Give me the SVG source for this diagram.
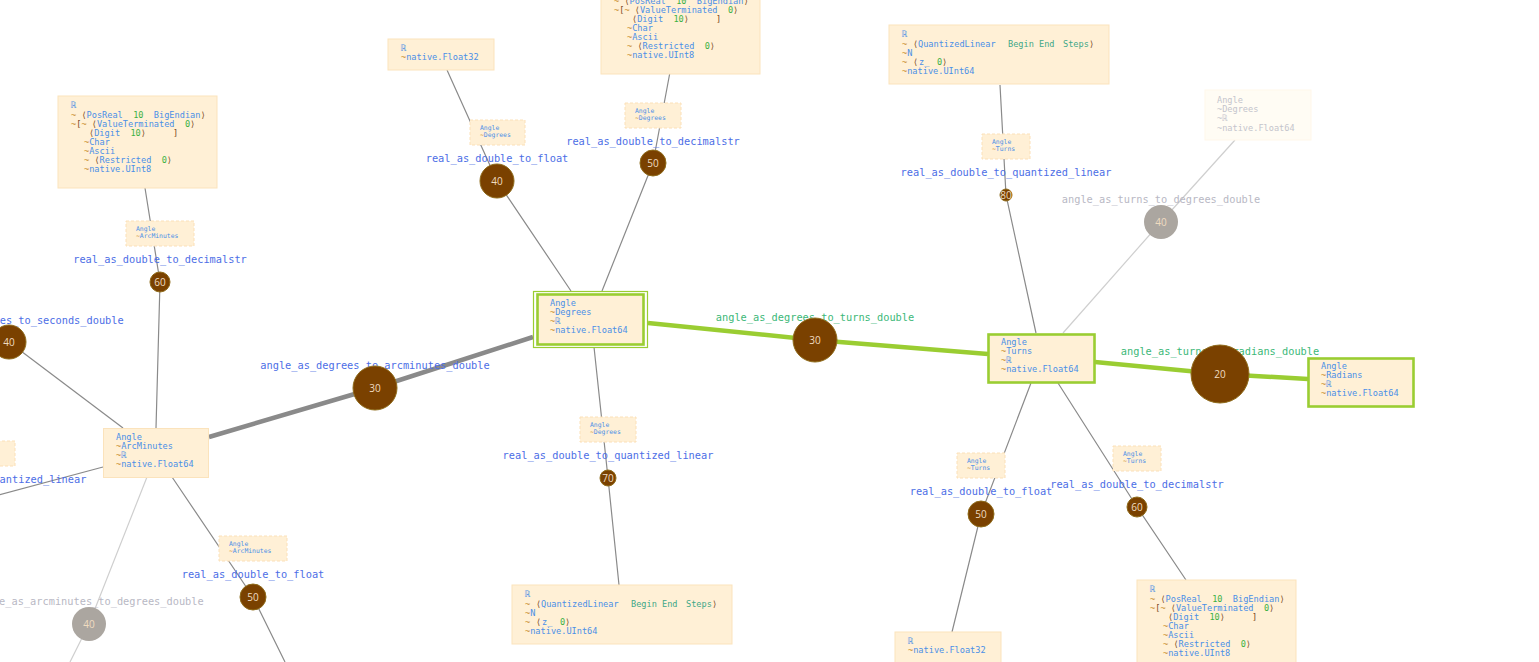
<svg xmlns="http://www.w3.org/2000/svg" width="1539" height="662" viewBox="0 0 1539 662">
<style>
.box{fill:#fff0d6;stroke:#fbe3bc;stroke-width:1}
.lab{fill:#fff0d6;stroke:#fbe0b8;stroke-width:1;stroke-dasharray:3 2}
.bt{font-family:"DejaVu Sans Mono",monospace;font-size:8.6px;fill:#4a8fe7;white-space:pre}
.st{font-family:"DejaVu Sans Mono",monospace;font-size:6.4px;fill:#4a8fe7}
.t{fill:#c98c2a}
.k{fill:#7b4a1e}
.n{fill:#3cb043}
.w{fill:#3fa888}
.el{font-family:"DejaVu Sans Mono",monospace;font-size:10.3px;fill:#4c6ee6;text-anchor:middle}
.eg{fill:#3cb878}
.ex{fill:#b8b8c4}
.e{fill:none;stroke:#8a8a8a;stroke-width:1.2}
.ef{stroke:#cfcfcf}
.et{fill:none;stroke:#8a8a8a;stroke-width:4.5}
.eh{fill:none;stroke:#9acd32;stroke-width:4.5}
.c{fill:#7a4100;stroke:#8f6b1a;stroke-width:1}
.cg{fill:#aba6a0}
.cn{font-family:"Open Sans",sans-serif;font-size:10px;fill:#f0dcc0;text-anchor:middle}
.sel{fill:none;stroke:#9acd32}
.fade{fill:#c4c4cc}
</style>
<rect width="1539" height="662" fill="#ffffff"/>

<g id="connectors">
<path class="e" d="M447,70 L497,181 L571,291"/>
<path class="e" d="M670,72 L653,163 L602,291"/>
<path class="e" d="M145,188 L160,282 L156,428"/>
<path class="e" d="M9,342 L123,428"/>
<path class="e" d="M103,467 L-20,500"/>
<path class="e ef" d="M147,477 L89,624 L70,662"/>
<path class="e" d="M172,477 L253,597 L285,662"/>
<path class="e" d="M594,347 L608,478 L619,585"/>
<path class="e" d="M1000,85 L1006,195 L1036,333"/>
<path class="e ef" d="M1235,140 L1161,222 L1063,333"/>
<path class="e" d="M1031,383 L981,514 L952,632"/>
<path class="e" d="M1058,383 L1137,507 L1186,580"/>
<path class="et" d="M533,337 L375,388 L209,437"/>
<path class="eh" d="M648,323 L815,340 L988,354"/>
<path class="eh" d="M1095,362 L1220,374 L1308,379"/>
</g>

<g id="str_topleft" transform="translate(58,96)">
<rect class="box" width="159" height="92"/>
<text class="bt" x="13" y="12">ℝ</text>
<text class="bt" x="13" y="22" xml:space="preserve"><tspan class="t">~</tspan> <tspan class="k">⟨</tspan>PosReal  <tspan class="n">10</tspan>  BigEndian<tspan class="k">⟩</tspan></text>
<text class="bt" x="13" y="31" xml:space="preserve"><tspan class="t">~</tspan><tspan class="k">[</tspan><tspan class="t">~</tspan> <tspan class="k">⟨</tspan>ValueTerminated  <tspan class="n">0</tspan><tspan class="k">⟩</tspan></text>
<text class="bt" x="31" y="40" xml:space="preserve"><tspan class="k">⟨</tspan>Digit  <tspan class="n">10</tspan><tspan class="k">⟩</tspan></text>
<text class="bt k" x="115" y="40">]</text>
<text class="bt" x="26" y="49"><tspan class="t">~</tspan>Char</text>
<text class="bt" x="26" y="58"><tspan class="t">~</tspan>Ascii</text>
<text class="bt" x="26" y="67" xml:space="preserve"><tspan class="t">~</tspan> <tspan class="k">⟨</tspan>Restricted  <tspan class="n">0</tspan><tspan class="k">⟩</tspan></text>
<text class="bt" x="26" y="76"><tspan class="t">~</tspan>native.UInt8</text>
</g>

<g id="str_topcenter" transform="translate(601,-18)">
<rect class="box" width="159" height="92"/>
<text class="bt" x="13" y="12">ℝ</text>
<text class="bt" x="13" y="22" xml:space="preserve"><tspan class="t">~</tspan> <tspan class="k">⟨</tspan>PosReal  <tspan class="n">10</tspan>  BigEndian<tspan class="k">⟩</tspan></text>
<text class="bt" x="13" y="31" xml:space="preserve"><tspan class="t">~</tspan><tspan class="k">[</tspan><tspan class="t">~</tspan> <tspan class="k">⟨</tspan>ValueTerminated  <tspan class="n">0</tspan><tspan class="k">⟩</tspan></text>
<text class="bt" x="31" y="40" xml:space="preserve"><tspan class="k">⟨</tspan>Digit  <tspan class="n">10</tspan><tspan class="k">⟩</tspan></text>
<text class="bt k" x="115" y="40">]</text>
<text class="bt" x="26" y="49"><tspan class="t">~</tspan>Char</text>
<text class="bt" x="26" y="58"><tspan class="t">~</tspan>Ascii</text>
<text class="bt" x="26" y="67" xml:space="preserve"><tspan class="t">~</tspan> <tspan class="k">⟨</tspan>Restricted  <tspan class="n">0</tspan><tspan class="k">⟩</tspan></text>
<text class="bt" x="26" y="76"><tspan class="t">~</tspan>native.UInt8</text>
</g>

<g id="str_bottomright" transform="translate(1137,580)">
<rect class="box" width="159" height="92"/>
<text class="bt" x="13" y="12">ℝ</text>
<text class="bt" x="13" y="22" xml:space="preserve"><tspan class="t">~</tspan> <tspan class="k">⟨</tspan>PosReal  <tspan class="n">10</tspan>  BigEndian<tspan class="k">⟩</tspan></text>
<text class="bt" x="13" y="31" xml:space="preserve"><tspan class="t">~</tspan><tspan class="k">[</tspan><tspan class="t">~</tspan> <tspan class="k">⟨</tspan>ValueTerminated  <tspan class="n">0</tspan><tspan class="k">⟩</tspan></text>
<text class="bt" x="31" y="40" xml:space="preserve"><tspan class="k">⟨</tspan>Digit  <tspan class="n">10</tspan><tspan class="k">⟩</tspan></text>
<text class="bt k" x="115" y="40">]</text>
<text class="bt" x="26" y="49"><tspan class="t">~</tspan>Char</text>
<text class="bt" x="26" y="58"><tspan class="t">~</tspan>Ascii</text>
<text class="bt" x="26" y="67" xml:space="preserve"><tspan class="t">~</tspan> <tspan class="k">⟨</tspan>Restricted  <tspan class="n">0</tspan><tspan class="k">⟩</tspan></text>
<text class="bt" x="26" y="76"><tspan class="t">~</tspan>native.UInt8</text>
</g>

<g id="ql_topright" transform="translate(889,25)">
<rect class="box" width="220" height="59"/>
<text class="bt" x="13" y="12">ℝ</text>
<text class="bt" y="22"><tspan class="t" x="13">~</tspan><tspan class="k" x="24">⟨</tspan><tspan x="29">QuantizedLinear</tspan><tspan class="w" x="119">Begin</tspan><tspan class="w" x="150">End</tspan><tspan class="w" x="174">Steps</tspan><tspan class="k" x="200">⟩</tspan></text>
<text class="bt" x="13" y="31"><tspan class="t">~</tspan>N</text>
<text class="bt" y="40"><tspan class="t" x="13">~</tspan><tspan class="k" x="24">⟨</tspan><tspan x="30">z_</tspan><tspan class="n" x="48">0</tspan><tspan class="k" x="53">⟩</tspan></text>
<text class="bt" x="13" y="49"><tspan class="t">~</tspan>native.UInt64</text>
</g>

<g id="ql_bottomcenter" transform="translate(512,585)">
<rect class="box" width="220" height="59"/>
<text class="bt" x="13" y="12">ℝ</text>
<text class="bt" y="22"><tspan class="t" x="13">~</tspan><tspan class="k" x="24">⟨</tspan><tspan x="29">QuantizedLinear</tspan><tspan class="w" x="119">Begin</tspan><tspan class="w" x="150">End</tspan><tspan class="w" x="174">Steps</tspan><tspan class="k" x="200">⟩</tspan></text>
<text class="bt" x="13" y="31"><tspan class="t">~</tspan>N</text>
<text class="bt" y="40"><tspan class="t" x="13">~</tspan><tspan class="k" x="24">⟨</tspan><tspan x="30">z_</tspan><tspan class="n" x="48">0</tspan><tspan class="k" x="53">⟩</tspan></text>
<text class="bt" x="13" y="49"><tspan class="t">~</tspan>native.UInt64</text>
</g>

<g id="f32_top" transform="translate(388,39)">
<rect class="box" width="106" height="31"/>
<text class="bt" x="13" y="12">ℝ</text>
<text class="bt" x="13" y="21"><tspan class="t">~</tspan>native.Float32</text>
</g>

<g id="f32_bottom" transform="translate(895,632)">
<rect class="box" width="106" height="31"/>
<text class="bt" x="13" y="12">ℝ</text>
<text class="bt" x="13" y="21"><tspan class="t">~</tspan>native.Float32</text>
</g>

<g id="node_degrees" transform="translate(533,291)">
<rect class="sel" x="0.5" y="0.5" width="114" height="56" stroke-width="1.2"/>
<rect class="box" x="4.5" y="3.5" width="106" height="50" style="stroke:#9acd32;stroke-width:2.6"/>
<text class="bt" x="17" y="15">Angle</text>
<text class="bt" x="17" y="24"><tspan class="t">~</tspan>Degrees</text>
<text class="bt" x="17" y="33"><tspan class="t">~</tspan>ℝ</text>
<text class="bt" x="17" y="42"><tspan class="t">~</tspan>native.Float64</text>
</g>

<g id="node_turns" transform="translate(988,334)">
<rect class="box" x="0.5" y="0.5" width="106" height="48" style="stroke:#9acd32;stroke-width:2.6"/>
<text class="bt" x="13" y="11">Angle</text>
<text class="bt" x="13" y="20"><tspan class="t">~</tspan>Turns</text>
<text class="bt" x="13" y="29"><tspan class="t">~</tspan>ℝ</text>
<text class="bt" x="13" y="38"><tspan class="t">~</tspan>native.Float64</text>
</g>

<g id="node_radians" transform="translate(1308,358)">
<rect class="box" x="0.5" y="0.5" width="105" height="48" style="stroke:#9acd32;stroke-width:2.6"/>
<text class="bt" x="13" y="11">Angle</text>
<text class="bt" x="13" y="20"><tspan class="t">~</tspan>Radians</text>
<text class="bt" x="13" y="29"><tspan class="t">~</tspan>ℝ</text>
<text class="bt" x="13" y="38"><tspan class="t">~</tspan>native.Float64</text>
</g>

<g id="node_arcminutes" transform="translate(103,428)">
<rect class="box" x="0.5" y="0.5" width="105" height="49"/>
<text class="bt" x="13" y="12">Angle</text>
<text class="bt" x="13" y="21"><tspan class="t">~</tspan>ArcMinutes</text>
<text class="bt" x="13" y="30"><tspan class="t">~</tspan>ℝ</text>
<text class="bt" x="13" y="39"><tspan class="t">~</tspan>native.Float64</text>
</g>

<g id="node_degrees_faded" transform="translate(1205,90)">
<rect width="106" height="50" fill="#fffcf4" stroke="#fff7ea"/>
<text class="bt fade" x="12" y="13">Angle</text>
<text class="bt fade" x="12" y="22">~Degrees</text>
<text class="bt fade" x="12" y="31">~ℝ</text>
<text class="bt fade" x="12" y="41">~native.Float64</text>
</g>

<g id="edge_labels">
<text class="el" x="497" y="162">real_as_double_to_float</text>
<text class="el" x="653" y="145">real_as_double_to_decimalstr</text>
<text class="el" x="375" y="369">angle_as_degrees_to_arcminutes_double</text>
<text class="el eg" x="815" y="321">angle_as_degrees_to_turns_double</text>
<text class="el" x="1006" y="176">real_as_double_to_quantized_linear</text>
<text class="el ex" x="1161" y="203">angle_as_turns_to_degrees_double</text>
<text class="el eg" x="1220" y="355">angle_as_turns_to_radians_double</text>
<text class="el" x="608" y="459">real_as_double_to_quantized_linear</text>
<text class="el" x="981" y="495">real_as_double_to_float</text>
<text class="el" x="1137" y="488">real_as_double_to_decimalstr</text>
<text class="el" x="160" y="263">real_as_double_to_decimalstr</text>
<text class="el" x="9" y="324">angle_as_arcminutes_to_seconds_double</text>
<text class="el" x="-19" y="483">real_as_double_to_quantized_linear</text>
<text class="el ex" x="89" y="605">angle_as_arcminutes_to_degrees_double</text>
<text class="el" x="253" y="578">real_as_double_to_float</text>
</g>

<g id="tag_d1" transform="translate(470,120)"><rect class="lab" width="55" height="25"/><text class="st" x="10" y="10">Angle</text><text class="st" x="10" y="17"><tspan class="t">~</tspan>Degrees</text></g>
<g id="tag_d2" transform="translate(625,103)"><rect class="lab" width="56" height="25"/><text class="st" x="10" y="10">Angle</text><text class="st" x="10" y="17"><tspan class="t">~</tspan>Degrees</text></g>
<g id="tag_d3" transform="translate(580,417)"><rect class="lab" width="56" height="25"/><text class="st" x="10" y="10">Angle</text><text class="st" x="10" y="17"><tspan class="t">~</tspan>Degrees</text></g>
<g id="tag_a1" transform="translate(126,221)"><rect class="lab" width="68" height="25"/><text class="st" x="10" y="10">Angle</text><text class="st" x="10" y="17"><tspan class="t">~</tspan>ArcMinutes</text></g>
<g id="tag_a2" transform="translate(219,536)"><rect class="lab" width="68" height="25"/><text class="st" x="10" y="10">Angle</text><text class="st" x="10" y="17"><tspan class="t">~</tspan>ArcMinutes</text></g>
<g id="tag_a3" transform="translate(-53,441)"><rect class="lab" width="68" height="25"/><text class="st" x="10" y="10">Angle</text><text class="st" x="10" y="17"><tspan class="t">~</tspan>ArcMinutes</text></g>
<g id="tag_t1" transform="translate(982,134)"><rect class="lab" width="48" height="25"/><text class="st" x="10" y="10">Angle</text><text class="st" x="10" y="17"><tspan class="t">~</tspan>Turns</text></g>
<g id="tag_t2" transform="translate(957,453)"><rect class="lab" width="48" height="25"/><text class="st" x="10" y="10">Angle</text><text class="st" x="10" y="17"><tspan class="t">~</tspan>Turns</text></g>
<g id="tag_t3" transform="translate(1113,446)"><rect class="lab" width="48" height="25"/><text class="st" x="10" y="10">Angle</text><text class="st" x="10" y="17"><tspan class="t">~</tspan>Turns</text></g>

<g id="op_float_top"><circle class="c" cx="497" cy="181" r="17"/><text class="cn" x="497" y="185">40</text></g>
<g id="op_decstr_top"><circle class="c" cx="653" cy="163" r="13"/><text class="cn" x="653" y="167">50</text></g>
<g id="op_deg_arcmin"><circle class="c" cx="375" cy="388" r="22"/><text class="cn" x="375" y="392">30</text></g>
<g id="op_deg_turns"><circle class="c" cx="815" cy="340" r="22"/><text class="cn" x="815" y="344">30</text></g>
<g id="op_ql_turns"><circle class="c" cx="1006" cy="195" r="6"/><text class="cn" x="1006" y="199">80</text></g>
<g id="op_turns_deg"><circle class="cg" cx="1161" cy="222" r="17"/><text class="cn" x="1161" y="226" fill="#f4f4f4">40</text></g>
<g id="op_turns_rad"><circle class="c" cx="1220" cy="374" r="29"/><text class="cn" x="1220" y="378">20</text></g>
<g id="op_ql_deg"><circle class="c" cx="608" cy="478" r="8"/><text class="cn" x="608" y="482">70</text></g>
<g id="op_float_turns"><circle class="c" cx="981" cy="514" r="13"/><text class="cn" x="981" y="518">50</text></g>
<g id="op_decstr_turns"><circle class="c" cx="1137" cy="507" r="10"/><text class="cn" x="1137" y="511">60</text></g>
<g id="op_decstr_arcmin"><circle class="c" cx="160" cy="282" r="10"/><text class="cn" x="160" y="286">60</text></g>
<g id="op_arcmin_sec"><circle class="c" cx="9" cy="342" r="17"/><text class="cn" x="9" y="346">40</text></g>
<g id="op_arcmin_deg"><circle class="cg" cx="89" cy="624" r="17"/><text class="cn" x="89" y="628" fill="#f4f4f4">40</text></g>
<g id="op_float_arcmin"><circle class="c" cx="253" cy="597" r="13"/><text class="cn" x="253" y="601">50</text></g>
</svg>
